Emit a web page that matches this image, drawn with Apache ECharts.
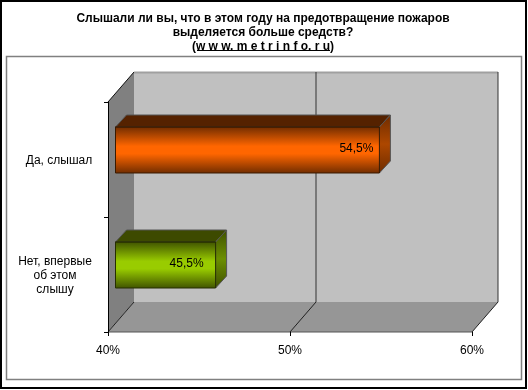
<!DOCTYPE html>
<html><head><meta charset="utf-8">
<style>html,body{margin:0;padding:0;background:#fff}#c{width:528px;height:390px}</style>
<script src="https://cdn.jsdelivr.net/npm/echarts@6/dist/echarts.min.js"></script>
</head><body><div id="c"></div>
<script>
const titleLines = ['Слышали ли вы, что в этом году на предотвращение пожаров', 'выделяется больше средств?', '(w w w. m e t r i n f o. r u)'];
const categories = ['Да, слышал', 'Нет, впервые\nоб этом\nслышу'];
const values = [54.5, 45.5];
const valueLabels = ['54,5%', '45,5%'];
const xTicks = [40, 50, 60];

const FONT = '"Liberation Sans", Arial, sans-serif';
const WALL_DX = 26, WALL_DY = -30;
const BAR_OFF_X = 7.5, BAR_OFF_Y = -9.5, BAR_DX = 11, BAR_DY = -12, BAR_H = 46;
const LABEL_INSET = [23, 29];
const PAL = [
  {edge:'#6f2c00', mid:'#ff6600', top:'#552200', s1:'#6e2c00', s2:'#ad4700', line:'#3a1a00'},
  {edge:'#3f5200', mid:'#99cc00', top:'#3d4a00', s1:'#3f5000', s2:'#6c8f00', line:'#262e00'}
];
const grad = (x2, y2, stops) => ({type:'linear', x:0, y:0, x2, y2, colorStops:stops});

function renderWalls(params, api) {
  const r = params.coordSys;
  const x0 = r.x, x1 = r.x + r.width, y0 = r.y, y1 = r.y + r.height;
  const kids = [
    {type:'polygon', shape:{points:[[x0,y0],[x0+WALL_DX,y0+WALL_DY],[x0+WALL_DX,y1+WALL_DY],[x0,y1]]}, style:{fill:'#808080'}},
    {type:'rect', shape:{x:x0+WALL_DX, y:y0+WALL_DY, width:r.width, height:r.height}, style:{fill:'#c0c0c0'}},
    {type:'polygon', shape:{points:[[x0,y1],[x1,y1],[x1+WALL_DX,y1+WALL_DY],[x0+WALL_DX,y1+WALL_DY]]}, style:{fill:'#969696'}},
    {type:'line', shape:{x1:x0,y1:y0,x2:x0+WALL_DX,y2:y0+WALL_DY}, style:{stroke:'#111',lineWidth:1}},
    {type:'line', shape:{x1:x0+WALL_DX,y1:y0+WALL_DY+0.5,x2:x1+WALL_DX,y2:y0+WALL_DY+0.5}, style:{stroke:'#a0a0a0',lineWidth:2}},
    {type:'line', shape:{x1:x0,y1:y1,x2:x1,y2:y1}, style:{stroke:'#555',lineWidth:1}}
  ];
  xTicks.forEach((t) => {
    const x = api.coord([t, 0])[0];
    kids.push({type:'line', shape:{x1:x,y1:y1,x2:x+WALL_DX,y2:y1+WALL_DY}, style:{stroke:'#222',lineWidth:1}});
    if (t !== xTicks[0]) kids.push({type:'line', shape:{x1:x+WALL_DX,y1:y0+WALL_DY,x2:x+WALL_DX,y2:y1+WALL_DY}, style:{stroke:'#333',lineWidth:1}});
  });
  return {type:'group', children:kids};
}

function renderBar(params, api) {
  const cat = api.value(1), val = api.value(0), i = params.dataIndex;
  const s = api.coord([xTicks[0], cat]), e = api.coord([val, cat]);
  const p = PAL[i];
  const x = s[0] + BAR_OFF_X, x2 = e[0] + BAR_OFF_X, y = s[1] + BAR_OFF_Y - BAR_H/2, y2 = y + BAR_H;
  const line = {stroke:p.line, lineWidth:1};
  return {type:'group', children:[
    {type:'polygon', shape:{points:[[x,y],[x+BAR_DX,y+BAR_DY],[x2+BAR_DX,y+BAR_DY],[x2,y]]},
      style:{fill:p.top, stroke:'#555', lineWidth:1}},
    {type:'polygon', shape:{points:[[x2,y],[x2+BAR_DX,y+BAR_DY],[x2+BAR_DX,y2+BAR_DY],[x2,y2]]},
      style:{fill:grad(0,1,[{offset:0,color:p.s1},{offset:0.5,color:p.s2},{offset:1,color:p.s1}]), stroke:'#555', lineWidth:1}},
    {type:'rect', shape:{x, y, width:x2-x, height:BAR_H},
      style:{fill:grad(0,1,[{offset:0,color:p.edge},{offset:0.42,color:p.mid},{offset:0.58,color:p.mid},{offset:1,color:p.edge}]), stroke:p.line, lineWidth:1}},
    {type:'line', shape:{x1:x,y1:y,x2:x2,y2:y}, style:line},
    {type:'text', style:{x:x2-LABEL_INSET[i], y:y+BAR_H/2-1, text:valueLabels[i], align:'center', verticalAlign:'middle',
      font:'12px '+FONT, fill:'#000'}}
  ]};
}

const chart = echarts.init(document.getElementById('c'), null, {renderer:'canvas'});
chart.setOption({
  animation:false,
  backgroundColor:'#fff',
  graphic:[
    {type:'rect', shape:{x:1,y:1,width:525,height:387}, style:{fill:'none',stroke:'#000',lineWidth:2}, z:-10, silent:true},
    {type:'rect', shape:{x:6.5,y:56.5,width:515,height:323}, style:{fill:'none',stroke:'#808080',lineWidth:1.5}, z:-10, silent:true},
    {type:'line', shape:{x1:197,y1:50.5,x2:330,y2:50.5}, style:{stroke:'#000',lineWidth:1}, z:5, silent:true}
  ],
  title:{
    text:titleLines.join('\n'), left:258, top:7, textAlign:'center',
    textStyle:{fontFamily:FONT, fontSize:12, fontWeight:'bold', color:'#000', lineHeight:14}
  },
  grid:{left:108, right:56, top:102, bottom:58, containLabel:false},
  xAxis:{
    type:'value', min:xTicks[0], max:xTicks[xTicks.length-1], interval:10, z:5,
    axisLine:{show:false}, splitLine:{show:false},
    axisTick:{show:true, length:4, lineStyle:{color:'#000'}},
    axisLabel:{formatter:'{value}%', margin:13, color:'#000', fontFamily:FONT, fontSize:12}
  },
  yAxis:{
    type:'category', data:categories, inverse:true, z:5,
    axisLine:{show:true, lineStyle:{color:'#000', width:1}},
    axisTick:{show:true, length:4, lineStyle:{color:'#000'}},
    splitLine:{show:false},
    axisLabel:{color:'#000', fontFamily:FONT, fontSize:12, margin:53, align:'center', lineHeight:14, padding:[3,0,0,0],
      formatter:(v) => v.includes('\n') ? v : '{a|'+v+'}',
      rich:{a:{fontFamily:FONT, fontSize:12, color:'#000', padding:[0,0,0,8]}}}
  },
  series:[
    {type:'custom', z:1, clip:false, silent:true, data:[[xTicks[0],0]], renderItem:renderWalls},
    {type:'custom', z:2, clip:false, silent:true, data:values.map((v,i)=>[v,i]), encode:{x:0,y:1}, renderItem:renderBar}
  ]
});
</script></body></html>
